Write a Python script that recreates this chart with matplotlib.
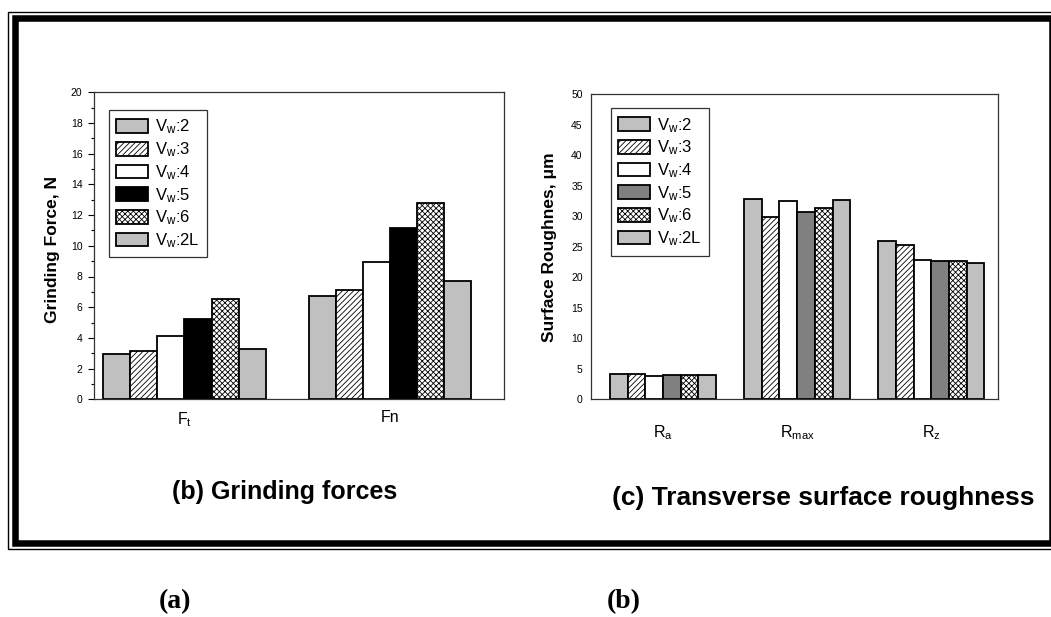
import matplotlib
matplotlib.use("Agg")
import matplotlib.pyplot as plt
from matplotlib.patches import Rectangle
import numpy as np

plt.rcParams['font.family'] = ['Liberation Sans', 'DejaVu Sans']
plt.rcParams['mathtext.default'] = 'regular'
plt.rcParams['hatch.linewidth'] = 0.6

# data
series = ['$V_w$:2', '$V_w$:3', '$V_w$:4', '$V_w$:5', '$V_w$:6', '$V_w$:2L']
force_groups = ['$F_t$', 'Fn']
force_vw2 = [2.95, 6.75]
force_vw3 = [3.15, 7.10]
force_vw4 = [4.12, 8.95]
force_vw5 = [5.25, 11.15]
force_vw6 = [6.55, 12.80]
force_vw2L = [3.30, 7.70]

rough_groups = ['$R_a$', '$R_{max}$', '$R_z$']
rough_vw2 = [4.2, 32.9, 26.0]
rough_vw3 = [4.2, 29.9, 25.3]
rough_vw4 = [3.8, 32.45, 22.8]
rough_vw5 = [4.0, 30.65, 22.7]
rough_vw6 = [4.0, 31.3, 22.7]
rough_vw2L = [4.0, 32.65, 22.3]

W, H = 1051, 617
fig = plt.figure(figsize=(W / 100, H / 100), dpi=100)
fig.patch.set_facecolor('white')


def box(x0, y0, x1, y1):
    # pixel box -> figure fraction [l, b, w, h]
    return [x0 / W, 1 - y1 / H, (x1 - x0) / W, (y1 - y0) / H]


# outer double frame
fig.patches.append(Rectangle((8 / W, 1 - 549 / H), 1060 / W, 537 / H, transform=fig.transFigure,
                             fill=False, ec='black', lw=1.0))
fig.patches.append(Rectangle((15 / W, 1 - 542.5 / H), 1036.5 / W, 525 / H, transform=fig.transFigure,
                             fill=False, ec='black', lw=4.7))

bar_w = 0.132


def draw_bars(ax, groups, vals, fills, hatches):
    x = np.arange(1, len(groups) + 1)
    for i, v in enumerate(vals):
        ax.bar(x + (i - 2.5) * bar_w, v, bar_w, color=fills[i], hatch=hatches[i],
               edgecolor='black', linewidth=1.3, label=series[i])
    ax.set_xticks(x)
    ax.set_xticklabels(groups, fontsize=11.5)
    ax.tick_params(axis='x', length=0)
    for s in ax.spines.values():
        s.set_linewidth(0.9)
        s.set_color('#333333')


def add_legend(ax, anchor):
    leg = ax.legend(loc='upper left', bbox_to_anchor=anchor, borderaxespad=0,
                    fancybox=False, edgecolor='#333333', framealpha=1, fontsize=12,
                    handlelength=1.9, handleheight=0.9, handletextpad=0.4,
                    borderpad=0.45, labelspacing=0.24)
    leg.get_frame().set_linewidth(0.9)


hatches = [None, '//////', None, None, 'xxxxxx', None]

# left chart: grinding forces
ax1 = fig.add_axes(box(94, 92.3, 504, 399.3))
draw_bars(ax1, force_groups,
          [force_vw2, force_vw3, force_vw4, force_vw5, force_vw6, force_vw2L],
          ['#c0c0c0', 'white', 'white', 'black', 'white', '#c0c0c0'], hatches)
ax1.set_xlim(0.56, 2.555)
ax1.set_ylim(0, 20)
ax1.set_yticks(np.arange(0, 21, 2))
ax1.set_yticks(np.arange(1, 20, 2), minor=True)
ax1.tick_params(axis='y', which='major', length=4.3, width=0.8, labelsize=7.5, pad=4)
ax1.tick_params(axis='y', which='minor', length=2.2, width=0.8)
ax1.tick_params(axis='x', pad=8)
ax1.set_ylabel('Grinding Force, N', fontsize=12.5, fontweight='bold')
ax1.yaxis.set_label_coords(-0.083, 0.487)
add_legend(ax1, (0.0359, 0.9414))

# right chart: surface roughness
ax2 = fig.add_axes(box(591, 94.3, 997.7, 399.3))
draw_bars(ax2, rough_groups,
          [rough_vw2, rough_vw3, rough_vw4, rough_vw5, rough_vw6, rough_vw2L],
          ['#c0c0c0', 'white', 'white', '#808080', 'white', '#c0c0c0'], hatches)
ax2.set_xlim(0.4635, 3.495)
ax2.set_ylim(0, 50)
ax2.set_yticks(np.arange(0, 51, 5))
ax2.tick_params(axis='y', length=0, labelsize=7.5, pad=6)
ax2.tick_params(axis='x', pad=17)
ax2.set_ylabel('Surface Roughnes, \u03bcm', fontsize=12.5, fontweight='bold')
ax2.yaxis.set_label_coords(-0.084, 0.5)
add_legend(ax2, (0.0484, 0.954))

# captions
fig.text(285 / W, 1 - 492 / H, '(b) Grinding forces', fontsize=18, fontweight='bold',
         ha='center', va='center')
fig.text(612 / W, 1 - 498 / H, '(c) Transverse surface roughness', fontsize=19,
         fontweight='bold', ha='left', va='center')
fig.text(175 / W, 1 - 602 / H, '(a)', fontsize=20, fontweight='bold',
         family='Liberation Serif', ha='center', va='center')
fig.text(624 / W, 1 - 602 / H, '(b)', fontsize=20, fontweight='bold',
         family='Liberation Serif', ha='center', va='center')

fig.savefig('out.png', dpi=100, facecolor='white')
